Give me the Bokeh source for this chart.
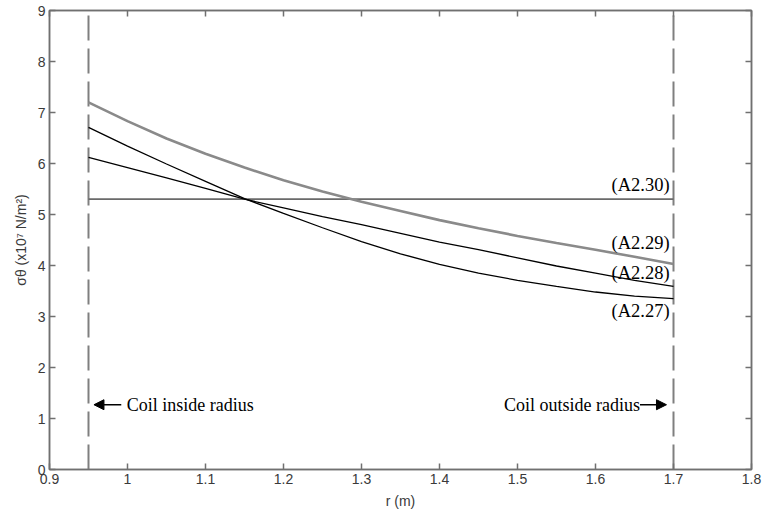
from bokeh.plotting import figure
from bokeh.models import (LinearAxis, FixedTicker, CustomJSTickFormatter, Range1d,
                          Label, Arrow, NormalHead)
from bokeh.embed import file_html
from bokeh.resources import INLINE

# ---- data ----
r = [0.95, 1.00, 1.05, 1.10, 1.15, 1.20, 1.25, 1.30, 1.35, 1.40, 1.45, 1.50, 1.55, 1.60, 1.65, 1.70]
sigma_A2_27 = [6.71, 6.34, 5.99, 5.65, 5.31, 5.02, 4.74, 4.47, 4.23, 4.02, 3.85, 3.71, 3.59, 3.48, 3.40, 3.35]
sigma_A2_28 = [6.12, 5.92, 5.72, 5.51, 5.30, 5.13, 4.96, 4.80, 4.63, 4.46, 4.31, 4.15, 3.99, 3.85, 3.71, 3.59]
sigma_A2_29 = [7.20, 6.83, 6.49, 6.19, 5.92, 5.67, 5.45, 5.25, 5.07, 4.89, 4.73, 4.58, 4.44, 4.31, 4.17, 4.03]
sigma_A2_30 = [5.30] * len(r)

coil_radii = [0.95, 1.70]
y_span = [0, 9]

x_ticks = [0.9, 1.0, 1.1, 1.2, 1.3, 1.4, 1.5, 1.6, 1.7, 1.8]
y_ticks = [0, 1, 2, 3, 4, 5, 6, 7, 8, 9]

curve_labels = ["(A2.30)", "(A2.29)", "(A2.28)", "(A2.27)"]
curve_label_y = [5.57, 4.44, 3.85, 3.10]

AX_COL = "#707070"
LBL_COL = "#3a3a3a"
SANS = "Liberation Sans"
SERIF = "Liberation Serif"

p = figure(width=763, height=514, x_range=Range1d(0.9, 1.8), y_range=Range1d(0, 9),
           output_backend="svg", toolbar_location=None,
           min_border_left=49, min_border_right=12, min_border_top=10, min_border_bottom=45,
           x_axis_label="r (m)", y_axis_label="σθ (x10⁷ N/m²)")
p.xgrid.visible = False
p.ygrid.visible = False
p.outline_line_color = AX_COL
p.outline_line_width = 1.5
p.background_fill_color = "white"
p.border_fill_color = "white"

fmt = CustomJSTickFormatter(code="return (Math.round(tick*10)/10).toString();")


def style_axis(ax, ticks, show_labels):
    ax.ticker = FixedTicker(ticks=ticks)
    ax.axis_line_color = AX_COL
    ax.axis_line_width = 1.5
    ax.major_tick_line_color = AX_COL
    ax.major_tick_line_width = 1.5
    ax.major_tick_in = 6
    ax.major_tick_out = 0
    ax.minor_tick_line_color = None
    if show_labels:
        ax.formatter = fmt
        ax.major_label_text_font = SANS
        ax.major_label_text_font_size = "14px"
        ax.major_label_text_color = LBL_COL
        ax.major_label_standoff = 4
        ax.axis_label_text_font = SANS
        ax.axis_label_text_font_size = "14px"
        ax.axis_label_text_font_style = "normal"
        ax.axis_label_text_color = LBL_COL
        ax.axis_label_standoff = 6
    else:
        ax.major_label_text_font_size = "0px"
        ax.major_label_text_color = None
        ax.major_label_standoff = 0


style_axis(p.xaxis[0], x_ticks, True)
style_axis(p.yaxis[0], y_ticks, True)

top_ax = LinearAxis()
style_axis(top_ax, x_ticks, False)
p.add_layout(top_ax, "above")
right_ax = LinearAxis()
style_axis(right_ax, y_ticks, False)
p.add_layout(right_ax, "right")

# coil radius dashed lines
for xc in coil_radii:
    p.line([xc, xc], y_span, line_color="#7f7f7f", line_width=2, line_dash="25 8")

# curves
p.line(r, sigma_A2_30, line_color="#6a6a6a", line_width=1.8)
p.line(r, sigma_A2_29, line_color="#8a8a8a", line_width=2.6)
p.line(r, sigma_A2_28, line_color="black", line_width=1.3)
p.line(r, sigma_A2_27, line_color="black", line_width=1.3)

for txt, yy in zip(curve_labels, curve_label_y):
    p.add_layout(Label(x=1.695, y=yy, text=txt, text_align="right", text_baseline="middle",
                       text_font=SERIF, text_font_size="18.5px", text_color="black"))

# coil annotations
p.add_layout(Arrow(end=NormalHead(size=10, fill_color="black", line_color="black"),
                   x_start=0.992, y_start=1.27, x_end=0.957, y_end=1.27,
                   line_color="black", line_width=1.5))
p.add_layout(Label(x=0.999, y=1.27, text="Coil inside radius", text_align="left",
                   text_baseline="middle", text_font=SERIF, text_font_size="18px",
                   text_color="black"))
p.add_layout(Arrow(end=NormalHead(size=10, fill_color="black", line_color="black"),
                   x_start=1.657, y_start=1.27, x_end=1.691, y_end=1.27,
                   line_color="black", line_width=1.5))
p.add_layout(Label(x=1.657, y=1.27, text="Coil outside radius", text_align="right",
                   text_baseline="middle", text_font=SERIF, text_font_size="18px",
                   text_color="black"))

open("out.html", "w").write(file_html(p, INLINE))
